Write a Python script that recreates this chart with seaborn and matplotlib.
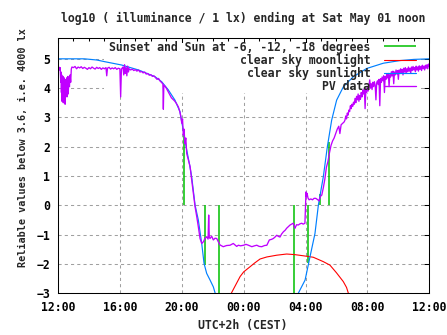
import numpy as np
import pandas as pd
import seaborn as sns
import matplotlib
matplotlib.use("Agg")
import matplotlib.pyplot as plt
from matplotlib.ticker import MultipleLocator, FixedLocator
from matplotlib.patches import Rectangle

# ---------------- data (hours after Fri 00:00, 12 = Fri 12:00, 36 = Sat 12:00) ----------------
tick_hours = [12, 16, 20, 24, 28, 32, 36]
tick_labels = ["12:00", "16:00", "20:00", "00:00", "04:00", "08:00", "12:00"]

# sunset / sunrise and sun at -6, -12, -18 degrees (vertical markers from 0)
event_hours = [20.16, 21.52, 22.39, 27.27, 28.18, 28.94, 29.54]
event_tops = [2.55, -2.04, -3.6, -3.6, -1.95, 0.40, 2.17]

# clear sky moonlight model
moon_hours = [23.10, 23.20, 23.50, 23.77, 24.00, 24.40, 24.70, 25.06, 25.50, 26.14, 26.78,
              27.30, 27.86, 28.50, 29.15, 29.58, 30.00, 30.44, 30.65, 30.80, 30.90]
moon_values = [-3.15, -3.00, -2.70, -2.43, -2.27, -2.10, -1.97, -1.83, -1.76, -1.70, -1.66,
               -1.68, -1.72, -1.77, -1.92, -2.04, -2.30, -2.60, -2.80, -3.05, -3.20]

# clear sky sunlight model
sun_hours = [12.00, 13.70, 14.50, 15.04, 16.10, 17.20, 18.27, 18.70, 19.13, 19.56, 19.88,
             20.10, 20.32, 20.50, 20.64, 20.86, 21.07, 21.29, 21.44, 21.61, 21.83, 22.04, 22.15, 22.25,
             27.40, 27.53, 27.97, 28.29, 28.61, 28.83, 29.15, 29.41, 29.69, 30.01, 30.45,
             31.09, 31.95, 33.03, 34.10, 35.00, 36.00]
sun_values = [5.00, 5.00, 4.96, 4.90, 4.79, 4.62, 4.39, 4.22, 3.94, 3.59, 3.20,
              2.55, 1.89, 1.40, 0.98, 0.01, -0.50, -1.30, -1.98, -2.32, -2.55, -2.78, -2.98, -3.20,
              -3.25, -3.00, -2.55, -1.75, -0.96, 0.01, 0.98, 2.00, 2.91, 3.59, 4.05,
              4.39, 4.67, 4.85, 4.94, 4.98, 5.00]

# PV sensor data
pv_hours = [
    12.00, 12.05, 12.10, 12.14, 12.18, 12.20, 12.22, 12.24, 12.26, 12.28, 12.30, 12.32, 12.34,
    12.36, 12.38, 12.40, 12.42, 12.44, 12.46, 12.48, 12.50, 12.52, 12.54, 12.56, 12.58, 12.60,
    12.62, 12.64, 12.66, 12.70, 12.74, 12.78, 12.82, 12.86, 12.90,
    13.00, 13.10, 13.20, 13.30, 13.40, 13.50, 13.60, 13.70, 13.80, 13.90, 14.00, 14.10, 14.20,
    14.30, 14.40, 14.50, 14.60, 14.70, 14.80, 14.90, 15.00, 15.10, 15.15, 15.20, 15.30, 15.40,
    15.50, 15.60, 15.70, 15.80, 15.90, 16.00, 16.05, 16.10, 16.20, 16.25, 16.30, 16.35, 16.40,
    16.45, 16.50, 16.55, 16.60, 16.70, 16.80, 16.90, 17.00, 17.10, 17.20, 17.30, 17.40, 17.50,
    17.60, 17.70, 17.80, 17.90, 18.00, 18.10, 18.20, 18.30, 18.40, 18.50, 18.60, 18.70, 18.78,
    18.81, 18.84, 18.90, 19.00, 19.10, 19.20, 19.33, 19.43, 19.54, 19.65, 19.78, 19.88, 19.95,
    20.00, 20.05, 20.10, 20.15, 20.20, 20.26, 20.32, 20.43, 20.54, 20.64, 20.75, 20.86, 20.97,
    21.07, 21.18, 21.29, 21.40, 21.50, 21.61, 21.70, 21.74, 21.78, 21.83, 21.93, 22.04, 22.15,
    22.26, 22.36, 22.47, 22.68, 22.90, 23.12, 23.33, 23.55, 23.66, 23.80, 24.00, 24.15, 24.31,
    24.53, 24.70, 24.85, 25.00, 25.17, 25.35, 25.50, 25.66, 25.80, 25.92, 26.03, 26.14, 26.25,
    26.35, 26.45, 26.57, 26.68, 26.78, 26.90, 27.00, 27.10, 27.20, 27.26, 27.32, 27.42, 27.53,
    27.64, 27.75, 27.85, 27.96, 28.03, 28.06, 28.10, 28.16, 28.23, 28.34, 28.45, 28.55, 28.66,
    28.77, 28.88, 28.95, 29.05, 29.15, 29.25, 29.35, 29.45, 29.55, 29.65, 29.75, 29.85, 29.95,
    30.05, 30.15, 30.22, 30.30, 30.40, 30.50,
    30.55, 30.60, 30.65, 30.70, 30.75, 30.80, 30.85, 30.90, 30.95, 31.00, 31.05, 31.10, 31.15,
    31.20, 31.25, 31.30, 31.35, 31.40, 31.45, 31.50, 31.55, 31.60, 31.65, 31.70, 31.75, 31.80,
    31.85, 31.90, 31.95, 32.00, 32.05, 32.10, 32.15, 32.20, 32.25, 32.30, 32.35, 32.40, 32.45,
    32.50, 32.55, 32.60, 32.65, 32.70, 32.75, 32.80, 32.85, 32.90, 32.95, 33.00, 33.05, 33.10,
    33.15, 33.20, 33.25, 33.30, 33.35, 33.40, 33.45, 33.50, 33.55, 33.60, 33.65, 33.70, 33.75,
    33.80, 33.85, 33.90, 33.95, 34.00, 34.05, 34.10, 34.15, 34.20, 34.25, 34.30, 34.35, 34.40,
    34.45, 34.50, 34.55, 34.60, 34.65, 34.70, 34.75, 34.80, 34.85, 34.90, 34.95, 35.00, 35.05,
    35.10, 35.15, 35.20, 35.25, 35.30, 35.35, 35.40, 35.45, 35.50, 35.55, 35.60, 35.65, 35.70,
    35.75, 35.80, 35.85, 35.90, 35.95, 36.00]
pv_values = [
    4.68, 4.72, 4.62, 4.70, 4.20, 4.55, 3.85, 4.45, 3.55, 4.30, 3.95, 4.40, 3.50,
    4.25, 3.80, 4.35, 3.60, 4.10, 3.45, 4.20, 3.75, 4.30, 3.90, 4.35, 3.70, 4.15,
    3.95, 4.40, 3.80, 4.30, 4.05, 4.45, 4.20, 4.65, 4.72,
    4.70, 4.74, 4.66, 4.72, 4.69, 4.73, 4.67, 4.71, 4.68, 4.64, 4.70, 4.66, 4.72,
    4.68, 4.65, 4.71, 4.67, 4.70, 4.64, 4.69, 4.66, 4.70, 4.42, 4.68, 4.71, 4.65,
    4.69, 4.66, 4.70, 4.64, 4.68, 4.66, 3.70, 4.65, 4.72, 4.45, 4.80, 4.50, 4.70,
    4.42, 4.75, 4.55, 4.66, 4.62, 4.65, 4.60, 4.63, 4.58, 4.62, 4.55, 4.57, 4.52,
    4.55, 4.48, 4.50, 4.44, 4.46, 4.40, 4.42, 4.36, 4.30, 4.33, 4.24, 4.19, 4.14,
    3.28, 4.10, 4.07, 4.00, 3.90, 3.80, 3.67, 3.62, 3.56, 3.48, 3.36, 3.19, 3.00,
    2.80, 2.95, 2.40, 2.60, 2.10, 2.30, 1.77, 1.55, 1.32, 0.87, 0.41, -0.05, -0.39,
    -0.73, -1.13, -1.30, -1.24, -1.13, -1.07, -1.15, -0.33, -1.10, -1.13, -1.05, -1.18, -1.12,
    -1.13, -1.24, -1.35, -1.41, -1.37, -1.36, -1.30, -1.40, -1.36, -1.38, -1.36, -1.33, -1.36,
    -1.41, -1.38, -1.36, -1.40, -1.41, -1.37, -1.36, -1.18, -1.16, -1.13, -1.08, -1.02, -1.06,
    -1.08, -0.98, -0.90, -0.85, -0.78, -0.72, -0.67, -0.64, -0.61, -0.70, -0.78, -0.66, -0.67,
    -0.63, -0.61, -0.64, -0.61, 0.46, 0.30, 0.41, 0.25, 0.19, 0.22, 0.19, 0.24, 0.24,
    0.20, 0.15, 0.30, 0.35, 0.60, 0.90, 1.30, 1.50, 1.80, 2.05, 2.20, 2.30, 2.45,
    2.60, 2.70, 2.45, 2.75, 2.80, 2.85,
    2.91, 3.05, 2.95, 3.15, 3.08, 3.25, 3.20, 3.40, 3.30, 3.45, 3.38, 3.52, 3.45,
    3.65, 3.50, 3.72, 3.60, 3.80, 3.55, 3.75, 3.62, 3.85, 3.70, 3.92, 3.80, 3.98,
    3.30, 3.95, 3.85, 4.05, 3.90, 4.10, 4.28, 4.00, 4.15, 3.95, 4.20, 4.05, 4.22,
    4.10, 3.60, 4.18, 4.25, 4.12, 4.30, 3.40, 4.32, 4.20, 4.38, 4.25, 4.42, 3.85,
    4.40, 4.30, 4.48, 4.35, 4.50, 4.05, 4.46, 4.38, 4.56, 4.42, 4.58, 4.15, 4.55,
    4.45, 4.62, 4.48, 4.60, 4.30, 4.62, 4.50, 4.66, 4.52, 4.64, 4.45, 4.68, 4.55,
    4.70, 4.50, 4.66, 4.56, 4.72, 4.58, 4.68, 4.52, 4.72, 4.60, 4.74, 4.62, 4.70,
    4.56, 4.75, 4.62, 4.72, 4.58, 4.76, 4.64, 4.74, 4.60, 4.78, 4.66, 4.75, 4.62,
    4.78, 4.68, 4.80, 4.66, 4.82, 4.74]

title_text = "log10 ( illuminance / 1 lx) ending at Sat May 01 noon"
xlabel_text = "UTC+2h (CEST)"
ylabel_text = "Reliable values below 3.6, i.e. 4000 lx"
legend_labels = ["Sunset and Sun at -6, -12, -18 degrees", "clear sky moonlight",
                 "clear sky sunlight", "PV data"]

# ---------------- style ----------------
sns.set_style("white")
plt.rcParams["font.family"] = ["DejaVu Sans Mono", "DejaVu Sans"]
plt.rcParams["font.weight"] = "bold"
FS = 8.3

C_GREEN = "#00c000"
C_RED = "#ff0000"
C_BLUE = "#0080ff"
C_PURPLE = "#c000ff"

fig = plt.figure(figsize=(4.47, 3.35), dpi=100)
ax = fig.add_axes([58 / 447, (335 - 293.3) / 335, 371.3 / 447, 255 / 335])
ax.set_facecolor("white")

moon_df = pd.DataFrame({"t": moon_hours, "v": moon_values})
sun_df = pd.DataFrame({"t": sun_hours, "v": sun_values})
pv_df = pd.DataFrame({"t": pv_hours, "v": pv_values})

h_green = ax.vlines(event_hours, 0, event_tops, colors=C_GREEN, linewidth=1.1, zorder=2)
sns.lineplot(data=moon_df, x="t", y="v", ax=ax, color=C_RED, linewidth=0.8,
             estimator=None, sort=False, zorder=2.1)
sns.lineplot(data=sun_df, x="t", y="v", ax=ax, color=C_BLUE, linewidth=0.85,
             estimator=None, sort=False, zorder=2.2)
sns.lineplot(data=pv_df, x="t", y="v", ax=ax, color=C_PURPLE, linewidth=0.95,
             estimator=None, sort=False, zorder=2.3)

lines = ax.get_lines()
h_red, h_blue, h_pv = lines[0], lines[1], lines[2]

ax.set_xlim(12, 36)
ax.set_ylim(-3, 5.7)

ax.xaxis.set_major_locator(FixedLocator(tick_hours))
ax.set_xticklabels(tick_labels)
ax.xaxis.set_minor_locator(MultipleLocator(1))
ax.yaxis.set_major_locator(FixedLocator(list(range(-3, 6))))

ax.tick_params(axis="both", which="both", direction="in", top=True, right=True,
               colors="black", labelsize=FS)
ax.tick_params(axis="both", which="major", length=3.6, width=0.75)
ax.tick_params(axis="x", which="minor", length=2.2, width=0.75)
ax.tick_params(axis="x", which="major", pad=5.5)
ax.tick_params(axis="y", which="major", pad=5.5)
for lab in ax.get_xticklabels() + ax.get_yticklabels():
    lab.set_fontweight("bold")

for s in ax.spines.values():
    s.set_visible(True)
    s.set_color("black")
    s.set_linewidth(0.75)
    s.set_zorder(3)

ax.grid(True, which="major", color="#a0a0a0", linestyle=(0, (3, 3)), linewidth=0.75)
ax.set_axisbelow(True)

# opaque key area
key_bg = Rectangle(((104 - 58) / 371.3, (293.3 - 92.7) / 255),
                   (418 - 104) / 371.3, (92.7 - 43.5) / 255, transform=ax.transAxes,
                   facecolor="white", edgecolor="none", zorder=1.0)
ax.add_patch(key_bg)

ax.set_title(title_text, fontsize=FS, fontweight="bold", y=(293.3 - 18.7) / 255,
             pad=0, va="center")
ax.set_xlabel(xlabel_text, fontsize=FS, fontweight="bold", va="center")
ax.xaxis.set_label_coords(0.497, (293.3 - 325.7) / 255)
ax.set_ylabel(ylabel_text, fontsize=7.3, fontweight="bold", va="center")
ax.yaxis.set_label_coords((23.5 - 58) / 371.3, (293.3 - 147.5) / 255)

leg = ax.legend([h_green, h_red, h_blue, h_pv], legend_labels, loc="upper right",
                bbox_to_anchor=((416 - 58) / 371.3, 1 - (40.5 - 38.3) / 255),
                frameon=False, markerfirst=False, handlelength=2.75,
                handletextpad=1.2, labelspacing=0.0, borderpad=0, borderaxespad=0,
                prop={"family": "DejaVu Sans Mono", "weight": "bold", "size": FS})
leg.set_zorder(4)

fig.savefig("out.png", dpi=100, facecolor="white")
